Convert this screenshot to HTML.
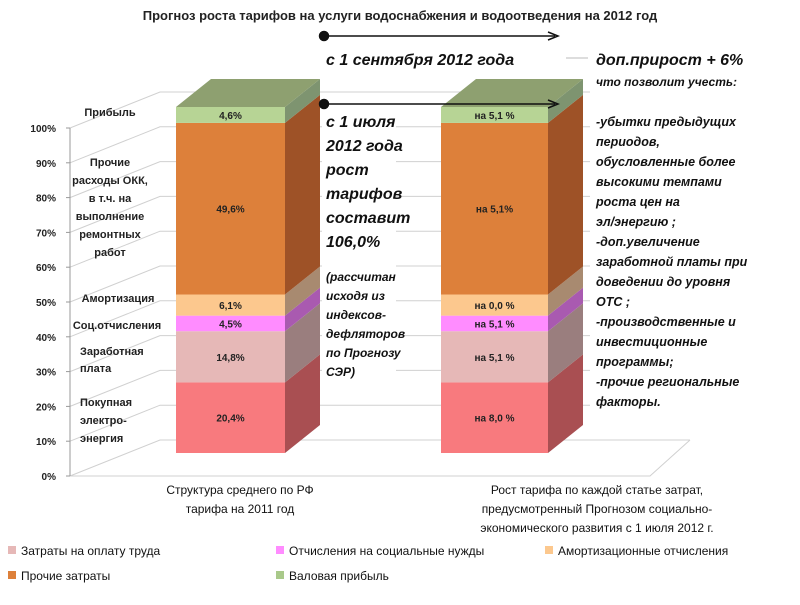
<!DOCTYPE html>
<html><head><meta charset="utf-8"><style>
body{margin:0;background:#fff;width:800px;height:600px;overflow:hidden}
svg{font-family:"Liberation Sans","DejaVu Sans",sans-serif}
.bi{font-style:italic;font-weight:bold}
</style></head><body>
<svg width="800" height="600" viewBox="0 0 800 600">
<text x="400" y="20" text-anchor="middle" font-size="13" font-weight="bold" fill="#222">Прогноз роста тарифов на услуги водоснабжения и водоотведения на 2012 год</text>
<g id="grid"></g>
<g id="axis"></g>
<g id="bars"></g>
<g id="cats" font-size="11" font-weight="bold" fill="#222" text-anchor="middle">
<text x="110" y="116">Прибыль</text>
<text x="110" y="166">Прочие</text><text x="110" y="184">расходы ОКК,</text><text x="110" y="202">в т.ч. на</text><text x="110" y="220">выполнение</text><text x="110" y="238">ремонтных</text><text x="110" y="256">работ</text>
<text x="118" y="302">Амортизация</text>
<text x="117" y="329">Соц.отчисления</text>
<text x="80" y="355" text-anchor="start">Заработная</text><text x="80" y="372" text-anchor="start">плата</text>
<text x="80" y="406" text-anchor="start">Покупная</text><text x="80" y="424" text-anchor="start">электро-</text><text x="80" y="442" text-anchor="start">энергия</text>
</g>
<g font-size="12" fill="#111" text-anchor="middle">
<text x="240" y="494">Структура среднего по РФ</text><text x="240" y="513">тарифа на 2011 год</text>
<text x="597" y="494">Рост тарифа по каждой статье затрат,</text><text x="597" y="513">предусмотренный Прогнозом социально-</text><text x="597" y="532">экономического развития с 1 июля 2012 г.</text>
</g>
<rect x="322" y="108" width="74" height="275" fill="#fff"/>
<rect x="590" y="44" width="200" height="370" fill="#fff"/>
<rect x="322" y="42" width="230" height="28" fill="#fff"/>
<g class="bi" fill="#111">
<text x="326" y="65" font-size="16">с 1 сентября 2012 года</text>
<text x="596" y="65" font-size="16">доп.прирост + 6%</text>
<text x="596" y="86" font-size="12">что позволит учесть:</text>
<g font-size="16"><text x="326" y="127">с 1 июля</text><text x="326" y="151">2012 года</text><text x="326" y="175">рост</text><text x="326" y="199">тарифов</text><text x="326" y="223">составит</text><text x="326" y="247">106,0%</text></g>
<g font-size="12"><text x="326" y="281">(рассчитан</text><text x="326" y="300">исходя из</text><text x="326" y="319">индексов-</text><text x="326" y="338">дефляторов</text><text x="326" y="357">по Прогнозу</text><text x="326" y="376">СЭР)</text></g>
<g font-size="12.5"><text x="596" y="126">-убытки предыдущих</text><text x="596" y="146">периодов,</text><text x="596" y="166">обусловленные более</text><text x="596" y="186">высокими темпами</text><text x="596" y="206">роста цен на</text><text x="596" y="226">эл/энергию ;</text><text x="596" y="246">-доп.увеличение</text><text x="596" y="266">заработной платы при</text><text x="596" y="286">доведении до уровня</text><text x="596" y="306">ОТС ;</text><text x="596" y="326">-производственные и</text><text x="596" y="346">инвестиционные</text><text x="596" y="366">программы;</text><text x="596" y="386">-прочие региональные</text><text x="596" y="406">факторы.</text></g>
</g>
<line x1="566" y1="58" x2="588" y2="58" stroke="#bbb"/>
<g stroke="#111" stroke-width="1.5" fill="#111">
<circle cx="324" cy="36" r="4.5"/><line x1="324" y1="36" x2="555" y2="36"/><path d="M548,32 L558,36 L548,40" fill="none"/>
<circle cx="324" cy="104" r="4.5"/><line x1="324" y1="104" x2="555" y2="104"/><path d="M548,100 L558,104 L548,108" fill="none"/>
</g>
<g font-size="12" fill="#111" id="legend">
<g><rect x="8" y="546" width="8" height="8" fill="#e6b8b7"/><text x="21" y="555">Затраты на оплату труда</text></g>
<g><rect x="276" y="546" width="8" height="8" fill="#ff8cff"/><text x="289" y="555">Отчисления на социальные нужды</text></g>
<g><rect x="545" y="546" width="8" height="8" fill="#fcc88e"/><text x="558" y="555">Амортизационные отчисления</text></g>
<g><rect x="8" y="571" width="8" height="8" fill="#dd803a"/><text x="21" y="580">Прочие затраты</text></g>
<g><rect x="276" y="571" width="8" height="8" fill="#a9c98a"/><text x="289" y="580">Валовая прибыль</text></g>
</g>
</svg>
<script>
const categories=["Покупная электроэнергия","Заработная плата","Соц.отчисления","Амортизация","Прочие расходы","Прибыль"];
const structure2011=[20.4,14.8,4.5,6.1,49.6,4.6];
const growth2012=[8.0,5.1,5.1,0.0,5.1,5.1];
const labels1=["20,4%","14,8%","4,5%","6,1%","49,6%","4,6%"];
const labels2=["на 8,0 %","на 5,1 %","на 5,1 %","на 0,0 %","на 5,1%","на 5,1 %"];
const ticks=[0,10,20,30,40,50,60,70,80,90,100];
const NS="http://www.w3.org/2000/svg";
const front=["#f87a7e","#e6b8b7","#ff8cff","#fcc88e","#dd803a","#b7d495"];
const side=["#a94f52","#9a7e7e","#a95ab0","#a88a70","#9e5227","#7e9470"];
function mk(t,a,p){const e=document.createElementNS(NS,t);for(const k in a)e.setAttribute(k,a[k]);p.appendChild(e);return e;}
function ya(v){return 476-v*3.48;}
function yb(v){return 453-v*3.46;}
const grid=document.getElementById('grid'),axis=document.getElementById('axis'),bars=document.getElementById('bars');
ticks.forEach(t=>{const y=ya(t);
 const l=mk('polyline',{points:`70,${y} 160,${y-36} 690,${y-36}`,fill:'none',stroke:'#d0d0d0'},grid);
 
 
 mk('line',{x1:66,y1:y,x2:70,y2:y,stroke:'#999'},axis);
 const tx=mk('text',{x:56,y:y+4,'text-anchor':'end','font-size':10,'font-weight':'bold',fill:'#222'},axis);
 tx.textContent=t+'%';
 
 
});
mk('polyline',{points:'690,440 650,476 70,476',fill:'none',stroke:'#d0d0d0'},grid);
mk('line',{x1:70,y1:ya(0),x2:70,y2:ya(100),stroke:'#999'},axis);
function drawBar(x0,w,vals,labs,name){
 const dx=35,dy=-28;let cum=0;const g=mk('g',{},bars);
 
 
 vals.forEach((v,i)=>{const y1=yb(cum),y2=yb(cum+v);cum+=v;
  const r=mk('rect',{x:x0,y:y2,width:w,height:y1-y2,fill:front[i]},g);
  
  
  mk('polygon',{points:`${x0+w},${y1} ${x0+w+dx},${y1+dy} ${x0+w+dx},${y2+dy} ${x0+w},${y2}`,fill:side[i]},g);
  const t=mk('text',{x:x0+w/2,y:(y1+y2)/2+4,'text-anchor':'middle','font-size':10,'font-weight':'bold',fill:'#222'},g);
  t.textContent=labs[i];
  
  
 });
 const yt=yb(cum);
 mk('polygon',{points:`${x0},${yt} ${x0+dx},${yt+dy} ${x0+w+dx},${yt+dy} ${x0+w},${yt}`,fill:'#8ea070'},g);
}
drawBar(176,109,structure2011,labels1,'bar-2011');
drawBar(441,107,structure2011,labels2,'bar-2012');
</script>
</body></html>
